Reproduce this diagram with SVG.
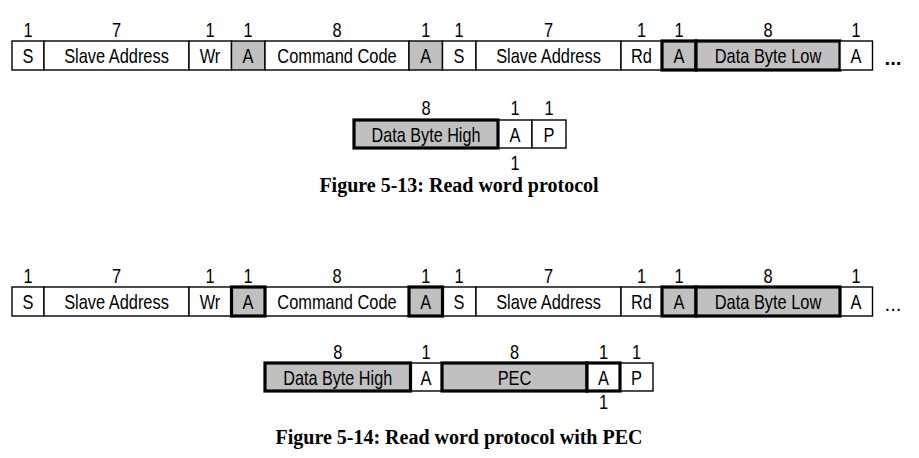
<svg xmlns="http://www.w3.org/2000/svg" width="919" height="458" viewBox="0 0 919 458">
<style>
.c{stroke:#000;stroke-width:1.4;fill:#fff}
.g{fill:#c0c0c0}
.k{stroke-width:3.2}
.t{font-family:"Liberation Sans",Arial,sans-serif;font-size:20.5px;text-anchor:middle;fill:#000}
.cap{font-family:"Liberation Serif","Times New Roman",serif;font-weight:bold;font-size:20px;text-anchor:middle;fill:#000}
</style>
<rect width="919" height="458" fill="#fff"/>

<!-- Figure 5-13 row 1 -->
<g id="f13-row1">
  <g id="f13-s1"><rect class="c" x="12" y="41" width="32" height="29"/><text class="t" transform="translate(28 63) scale(.8 1)">S</text><text class="t" transform="translate(28 37) scale(.8 1)">1</text></g>
  <g id="f13-addr1"><rect class="c" x="44" y="41" width="145" height="29"/><text class="t" transform="translate(116.5 63) scale(.8 1)">Slave Address</text><text class="t" transform="translate(116.5 37) scale(.8 1)">7</text></g>
  <g id="f13-wr"><rect class="c" x="189" y="41" width="42.5" height="29"/><text class="t" transform="translate(210 63) scale(.8 1)">Wr</text><text class="t" transform="translate(210 37) scale(.8 1)">1</text></g>
  <g id="f13-a1"><rect class="c g" x="231.5" y="41" width="33.5" height="29"/><text class="t" transform="translate(248 63) scale(.8 1)">A</text><text class="t" transform="translate(248 37) scale(.8 1)">1</text></g>
  <g id="f13-cmd"><rect class="c" x="265" y="41" width="144" height="29"/><text class="t" transform="translate(337 63) scale(.8 1)">Command Code</text><text class="t" transform="translate(337 37) scale(.8 1)">8</text></g>
  <g id="f13-a2"><rect class="c g" x="409" y="41" width="33.5" height="29"/><text class="t" transform="translate(425.7 63) scale(.8 1)">A</text><text class="t" transform="translate(425.7 37) scale(.8 1)">1</text></g>
  <g id="f13-s2"><rect class="c" x="442.5" y="41" width="33.5" height="29"/><text class="t" transform="translate(459 63) scale(.8 1)">S</text><text class="t" transform="translate(459 37) scale(.8 1)">1</text></g>
  <g id="f13-addr2"><rect class="c" x="476" y="41" width="145" height="29"/><text class="t" transform="translate(548.5 63) scale(.8 1)">Slave Address</text><text class="t" transform="translate(548.5 37) scale(.8 1)">7</text></g>
  <g id="f13-rd"><rect class="c" x="621" y="41" width="41" height="29"/><text class="t" transform="translate(641.5 63) scale(.8 1)">Rd</text><text class="t" transform="translate(641.5 37) scale(.8 1)">1</text></g>
  <g id="f13-a3"><rect class="c g k" x="662" y="41" width="34" height="29"/><text class="t" transform="translate(679 63) scale(.8 1)">A</text><text class="t" transform="translate(679 37) scale(.8 1)">1</text></g>
  <g id="f13-dbl"><rect class="c g k" x="696" y="41" width="144" height="29"/><text class="t" transform="translate(768 63) scale(.8 1)">Data Byte Low</text><text class="t" transform="translate(768 37) scale(.8 1)">8</text></g>
  <g id="f13-a4"><rect class="c" x="840" y="41" width="32.5" height="29"/><text class="t" transform="translate(856 63) scale(.8 1)">A</text><text class="t" transform="translate(856 37) scale(.8 1)">1</text></g>
  <text id="f13-more" class="t" x="893" y="65" font-weight="bold">...</text>
</g>

<!-- Figure 5-13 row 2 -->
<g id="f13-row2">
  <g id="f13-a5"><rect class="c" x="498" y="120" width="34" height="28"/><text class="t" transform="translate(515 141.5) scale(.8 1)">A</text><text class="t" transform="translate(515 115) scale(.8 1)">1</text><text class="t" transform="translate(515 170) scale(.8 1)">1</text></g>
  <g id="f13-p"><rect class="c" x="532" y="120" width="34" height="28"/><text class="t" transform="translate(549 141.5) scale(.8 1)">P</text><text class="t" transform="translate(549 115) scale(.8 1)">1</text></g>
  <g id="f13-dbh"><rect class="c g k" x="354" y="120" width="144" height="28"/><text class="t" transform="translate(426 141.5) scale(.79 1)">Data Byte High</text><text class="t" transform="translate(426 115) scale(.8 1)">8</text></g>
</g>
<text id="cap13" class="cap" x="459" y="192">Figure 5-13: Read word protocol</text>

<!-- Figure 5-14 row 1 -->
<g id="f14-row1">
  <g id="f14-s1"><rect class="c" x="12" y="287" width="32" height="29"/><text class="t" transform="translate(28 309) scale(.8 1)">S</text><text class="t" transform="translate(28 283) scale(.8 1)">1</text></g>
  <g id="f14-addr1"><rect class="c" x="44" y="287" width="145" height="29"/><text class="t" transform="translate(116.5 309) scale(.8 1)">Slave Address</text><text class="t" transform="translate(116.5 283) scale(.8 1)">7</text></g>
  <g id="f14-wr"><rect class="c" x="189" y="287" width="42.5" height="29"/><text class="t" transform="translate(210 309) scale(.8 1)">Wr</text><text class="t" transform="translate(210 283) scale(.8 1)">1</text></g>
  <g id="f14-cmd"><rect class="c" x="265" y="287" width="144" height="29"/><text class="t" transform="translate(337 309) scale(.8 1)">Command Code</text><text class="t" transform="translate(337 283) scale(.8 1)">8</text></g>
  <g id="f14-s2"><rect class="c" x="442.5" y="287" width="33.5" height="29"/><text class="t" transform="translate(459 309) scale(.8 1)">S</text><text class="t" transform="translate(459 283) scale(.8 1)">1</text></g>
  <g id="f14-addr2"><rect class="c" x="476" y="287" width="145" height="29"/><text class="t" transform="translate(548.5 309) scale(.8 1)">Slave Address</text><text class="t" transform="translate(548.5 283) scale(.8 1)">7</text></g>
  <g id="f14-rd"><rect class="c" x="621" y="287" width="41" height="29"/><text class="t" transform="translate(641.5 309) scale(.8 1)">Rd</text><text class="t" transform="translate(641.5 283) scale(.8 1)">1</text></g>
  <g id="f14-a4"><rect class="c" x="840" y="287" width="32.5" height="29"/><text class="t" transform="translate(856 309) scale(.8 1)">A</text><text class="t" transform="translate(856 283) scale(.8 1)">1</text></g>
  <g id="f14-a1"><rect class="c g k" x="231.5" y="287" width="33.5" height="29"/><text class="t" transform="translate(248 309) scale(.8 1)">A</text><text class="t" transform="translate(248 283) scale(.8 1)">1</text></g>
  <g id="f14-a2"><rect class="c g k" x="409" y="287" width="33.5" height="29"/><text class="t" transform="translate(425.7 309) scale(.8 1)">A</text><text class="t" transform="translate(425.7 283) scale(.8 1)">1</text></g>
  <g id="f14-a3"><rect class="c g k" x="662" y="287" width="34" height="29"/><text class="t" transform="translate(679 309) scale(.8 1)">A</text><text class="t" transform="translate(679 283) scale(.8 1)">1</text></g>
  <g id="f14-dbl"><rect class="c g k" x="696" y="287" width="144" height="29"/><text class="t" transform="translate(768 309) scale(.8 1)">Data Byte Low</text><text class="t" transform="translate(768 283) scale(.8 1)">8</text></g>
  <text id="f14-more" class="t" x="893" y="311">...</text>
</g>

<!-- Figure 5-14 row 2 -->
<g id="f14-row2">
  <g id="f14-a5"><rect class="c" x="410.5" y="363" width="31.5" height="28"/><text class="t" transform="translate(426 384.5) scale(.8 1)">A</text><text class="t" transform="translate(426 359) scale(.8 1)">1</text></g>
  <g id="f14-p"><rect class="c" x="620" y="363" width="33" height="28"/><text class="t" transform="translate(636.5 384.5) scale(.8 1)">P</text><text class="t" transform="translate(636.5 359) scale(.8 1)">1</text></g>
  <g id="f14-dbh"><rect class="c g k" x="265" y="363" width="145.5" height="28"/><text class="t" transform="translate(337.7 384.5) scale(.79 1)">Data Byte High</text><text class="t" transform="translate(337.7 359) scale(.8 1)">8</text></g>
  <g id="f14-pec"><rect class="c g k" x="442" y="363" width="145" height="28"/><text class="t" transform="translate(514.5 384.5) scale(.8 1)">PEC</text><text class="t" transform="translate(514.5 359) scale(.8 1)">8</text></g>
  <g id="f14-a6"><rect class="c k" x="587" y="363" width="33" height="28"/><text class="t" transform="translate(603.5 384.5) scale(.8 1)">A</text><text class="t" transform="translate(603.5 359) scale(.8 1)">1</text><text class="t" transform="translate(603.5 409) scale(.8 1)">1</text></g>
</g>
<text id="cap14" class="cap" x="459" y="444">Figure 5-14: Read word protocol with PEC</text>
</svg>
